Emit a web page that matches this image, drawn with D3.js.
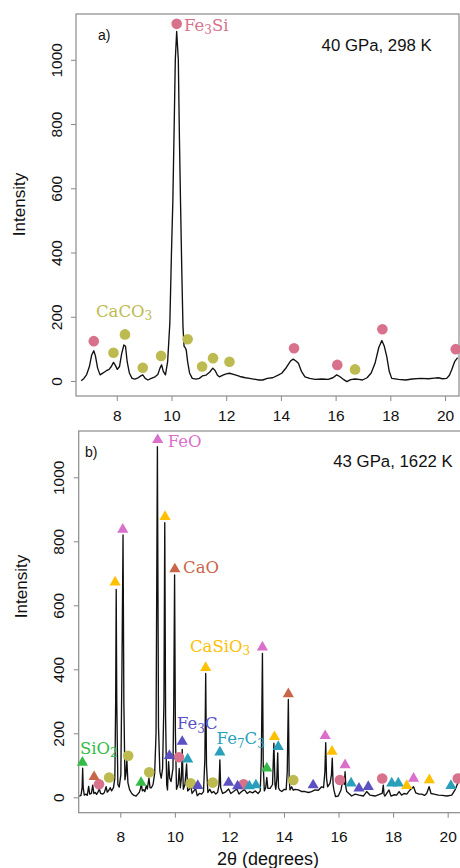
<!DOCTYPE html>
<html><head><meta charset="utf-8">
<script src="https://cdn.jsdelivr.net/npm/d3@7"></script>
<style>
html,body{margin:0;padding:0;background:#fff;}
svg{display:block;}
</style></head>
<body>
<svg id="chart" width="460" height="868"></svg>
<script>
// ---------- DATA ----------
const xTicks = [8, 10, 12, 14, 16, 18, 20];
const yTicks = [0, 200, 400, 600, 800, 1000];

// panel a: 40 GPa, 298 K  [2theta, intensity]
const traceA = [
 [6.70,1],[6.80,8],[6.90,20],[7.00,45],[7.08,80],[7.16,94],[7.22,78],[7.30,40],[7.39,19],[7.50,25],
 [7.62,32],[7.72,36],[7.80,45],[7.88,58],[7.94,50],[8.02,36],[8.10,45],[8.18,85],[8.26,112],[8.32,108],
 [8.38,60],[8.46,25],[8.56,8],[8.66,6],[8.78,10],[8.88,16],[8.95,19],[9.04,8],[9.14,3],[9.26,8],
 [9.40,13],[9.50,20],[9.58,40],[9.64,50],[9.70,30],[9.78,19],[9.86,60],[9.94,180],[10.00,400],[10.05,560],
 [10.10,800],[10.14,1000],[10.19,1088],[10.25,1000],[10.29,760],[10.33,560],[10.38,330],[10.42,170],[10.46,108],[10.50,104],
 [10.54,96],[10.59,60],[10.66,25],[10.76,8],[10.90,6],[11.02,8],[11.14,16],[11.26,18],[11.40,28],[11.51,40],
 [11.60,32],[11.68,18],[11.75,13],[11.88,18],[12.00,22],[12.12,24],[12.30,20],[12.50,14],[12.70,10],[12.85,8],
 [13.00,6],[13.20,3],[13.34,3],[13.50,8],[13.70,10],[13.90,18],[14.03,24],[14.20,42],[14.35,62],[14.45,68],
 [14.55,62],[14.64,55],[14.75,30],[14.88,13],[15.05,8],[15.25,5],[15.50,6],[15.73,5],[15.90,10],[16.04,19],
 [16.15,14],[16.30,4],[16.41,-2],[16.55,4],[16.71,6],[16.85,5],[16.98,3],[17.15,10],[17.30,25],[17.44,55],
 [17.58,105],[17.69,126],[17.78,108],[17.87,76],[17.96,30],[18.05,8],[18.30,5],[18.56,3],[18.80,6],[19.10,8],
 [19.40,7],[19.60,9],[19.75,10],[19.90,7],[20.06,8],[20.16,18],[20.24,34],[20.35,60],[20.46,73]
];

// panel b: 43 GPa, 1622 K
const traceB = [
 [6.50,4],[6.56,6],[6.60,30],[6.62,91],[6.64,30],[6.68,7],[6.74,10],[6.79,6],[6.84,34],[6.88,10],
 [6.94,12],[6.99,38],[7.03,12],[7.08,15],[7.13,9],[7.18,16],[7.23,26],[7.28,12],[7.35,10],[7.41,14],
 [7.48,33],[7.52,16],[7.58,22],[7.63,30],[7.68,20],[7.75,30],[7.80,60],[7.83,300],[7.85,650],[7.87,300],
 [7.91,40],[7.96,32],[8.02,70],[8.06,400],[8.10,820],[8.13,300],[8.17,55],[8.20,70],[8.24,117],[8.28,45],
 [8.34,24],[8.42,12],[8.50,6],[8.58,4],[8.64,10],[8.70,16],[8.74,28],[8.77,42],[8.81,20],[8.86,24],
 [8.90,18],[8.95,36],[8.99,26],[9.05,60],[9.09,30],[9.14,30],[9.20,40],[9.26,75],[9.31,200],[9.36,1096],
 [9.40,220],[9.45,80],[9.50,60],[9.55,90],[9.60,300],[9.63,858],[9.66,250],[9.70,40],[9.73,23],[9.77,111],
 [9.81,60],[9.86,49],[9.93,90],[9.96,300],[9.99,695],[10.02,200],[10.06,25],[10.12,40],[10.16,90],[10.20,30],
 [10.24,60],[10.27,150],[10.31,25],[10.37,40],[10.43,104],[10.47,20],[10.53,25],[10.58,38],[10.63,12],[10.70,20],
 [10.76,27],[10.82,5],[10.90,12],[10.98,10],[11.05,18],[11.10,120],[11.13,387],[11.16,100],[11.21,15],[11.28,25],
 [11.35,14],[11.42,18],[11.50,10],[11.57,16],[11.62,40],[11.65,117],[11.68,30],[11.75,12],[11.85,16],[11.97,26],
 [12.05,12],[12.15,18],[12.27,26],[12.35,10],[12.45,18],[12.55,24],[12.65,12],[12.75,18],[12.85,14],[12.95,20],
 [13.05,12],[13.13,20],[13.17,120],[13.21,450],[13.24,100],[13.28,20],[13.33,30],[13.37,62],[13.41,28],[13.49,28],
 [13.58,40],[13.63,169],[13.67,40],[13.70,25],[13.74,60],[13.77,139],[13.80,30],[13.84,23],[13.92,18],[14.01,25],
 [14.08,24],[14.12,80],[14.16,306],[14.19,60],[14.22,23],[14.28,33],[14.34,22],[14.40,25],[14.53,23],[14.65,18],
 [14.77,18],[14.90,15],[15.01,18],[15.14,23],[15.26,22],[15.38,33],[15.45,30],[15.50,80],[15.53,171],[15.56,60],
 [15.60,33],[15.69,44],[15.74,70],[15.77,122],[15.80,40],[15.83,23],[15.89,2],[15.99,4],[16.09,23],[16.16,54],
 [16.21,40],[16.24,80],[16.27,30],[16.30,18],[16.38,12],[16.48,4],[16.61,10],[16.75,7],[16.91,4],[17.03,18],
 [17.15,7],[17.34,4],[17.52,10],[17.60,12],[17.64,38],[17.67,8],[17.70,4],[17.85,23],[17.92,4],[18.05,8],
 [18.13,7],[18.22,18],[18.31,7],[18.40,12],[18.50,10],[18.62,23],[18.75,33],[18.83,14],[18.95,10],[19.05,10],
 [19.15,6],[19.23,12],[19.32,33],[19.39,12],[19.50,10],[19.66,7],[19.80,6],[19.97,4],[20.15,7],[20.27,23],
 [20.37,44],[20.45,54]
];

// phase markers [2theta, intensity]
const fe3siA  = [[7.16,124],[10.19,1112],[14.48,102],[16.06,50],[17.71,161],[20.39,99]];
const caco3A  = [[7.88,88],[8.30,145],[8.95,41],[9.62,78],[10.59,130],[11.12,45],[11.52,71],[12.12,60],[16.71,36]];

const fe3siB  = [[7.22,41],[10.15,125],[12.52,41],[16.05,54],[17.60,59],[20.37,59]];
const caco3B  = [[7.59,62],[8.29,130],[9.06,78],[10.58,44],[11.39,46],[14.34,54]];
const feoB    = [[8.09,837],[9.37,1117],[13.21,469],[15.51,192],[16.24,101],[18.75,59]];
const caoB    = [[7.04,64],[10.00,713],[14.16,323]];
const casio3B = [[7.81,672],[9.64,877],[11.13,405],[13.65,189],[15.76,143],[18.50,36],[19.33,54]];
const sio2B   = [[6.61,109],[8.76,46],[13.37,91]];
const fe3cB   = [[9.80,130],[10.27,174],[10.84,36],[11.97,46],[12.30,35],[15.07,38],[16.75,28],[17.09,33]];
const fe7c3B  = [[10.47,119],[11.65,141],[12.73,35],[12.97,38],[13.79,158],[16.46,44],[17.95,44],[18.19,44],[20.12,36]];

// phase names: [text, "sub" for subscript]
const nameFe3Si  = [["Fe",""],["3","sub"],["Si",""]];
const nameCaCO3  = [["CaCO",""],["3","sub"]];
const nameFeO    = [["FeO",""]];
const nameCaO    = [["CaO",""]];
const nameCaSiO3 = [["CaSiO",""],["3","sub"]];
const nameSiO2   = [["SiO",""],["2","sub"]];
const nameFe3C   = [["Fe",""],["3","sub"],["C",""]];
const nameFe7C3  = [["Fe",""],["7","sub"],["C",""],["3","sub"]];

const panelTitles = ["a)", "b)"];
const conditions = ["40 GPa, 298 K", "43 GPa, 1622 K"];

// ---------- STYLE / LAYOUT ----------
const C = {
  fe3si:"#D8728C", caco3:"#BDBB4F", feo:"#DA70CC", cao:"#C9664A",
  casio3:"#FFC000", sio2:"#35BC48", fe3c:"#5B51C2", fe7c3:"#2A9FBA"
};
const svg = d3.select("#chart");
const sans = "'Liberation Sans', Arial, sans-serif";
const serif = "'DejaVu Serif', serif";

const panels = [
  { box:[76,459,14,396], xdom:[6.51,20.51], ydom:[-46.8,1142.6],
    trace:traceA, tickPad:9, ylab:[18.5,204.5],
    markers:[ {d:fe3siA, c:C.fe3si, s:"circle"}, {d:caco3A, c:C.caco3, s:"circle"} ],
    labels:[ {n:nameFe3Si, c:C.fe3si, at:[10.46,1109]}, {n:nameCaCO3, c:C.caco3, at:[7.24,218]} ],
    title:[98,35], cond:[431.7,45] },
  { box:[78.7,461.3,431,812.7], xdom:[6.475,20.5], ydom:[-48.1,1144.7],
    trace:traceB, tickPad:13, ylab:[21,586.5],
    markers:[ {d:fe3siB, c:C.fe3si, s:"circle"}, {d:caco3B, c:C.caco3, s:"circle"},
              {d:sio2B, c:C.sio2, s:"tri"}, {d:caoB, c:C.cao, s:"tri"},
              {d:fe3cB, c:C.fe3c, s:"tri"}, {d:fe7c3B, c:C.fe7c3, s:"tri"},
              {d:casio3B, c:C.casio3, s:"tri"}, {d:feoB, c:C.feo, s:"tri"} ],
    labels:[ {n:nameFeO, c:C.feo, at:[9.74,1114]}, {n:nameCaO, c:C.cao, at:[10.30,721]},
             {n:nameCaSiO3, c:C.casio3, at:[10.555,473]}, {n:nameSiO2, c:C.sio2, at:[6.52,154]},
             {n:nameFe3C, c:C.fe3c, at:[10.08,232]}, {n:nameFe7C3, c:C.fe7c3, at:[11.53,185]} ],
    title:[85,452], cond:[452.7,461] }
];

panels.forEach((p, i) => {
  const [x0,x1,y0,y1] = p.box;
  const x = d3.scaleLinear().domain(p.xdom).range([x0,x1]);
  const y = d3.scaleLinear().domain(p.ydom).range([y1,y0]);
  const g = svg.append("g");

  // x axis
  const xa = g.append("g").attr("transform",`translate(0,${y1})`)
    .call(d3.axisBottom(x).tickValues(xTicks).tickFormat(d3.format("d")).tickSize(5).tickSizeOuter(0).tickPadding(p.tickPad));
  xa.select(".domain").remove();
  xa.selectAll("line").attr("stroke","#888");
  xa.selectAll("text").attr("font-family",sans).attr("font-size",15.5).attr("fill","#111");

  // y axis
  const ya = g.append("g").attr("transform",`translate(${x0},0)`)
    .call(d3.axisLeft(y).tickValues(yTicks).tickFormat(d3.format("d")).tickSize(5).tickSizeOuter(0));
  ya.select(".domain").remove();
  ya.selectAll("line").attr("stroke","#888");
  ya.selectAll("text").attr("font-family",sans).attr("font-size",15.5).attr("fill","#111")
    .attr("x",null).attr("dy",null).attr("text-anchor","middle")
    .attr("transform","translate(-14.5,0) rotate(-90)");

  // box
  g.append("rect").attr("x",x0).attr("y",y0).attr("width",x1-x0).attr("height",y1-y0)
    .attr("fill","none").attr("stroke","#8a8a8a").attr("stroke-width",1.2);

  // clip
  const cid = "clip"+i;
  svg.append("clipPath").attr("id",cid).append("rect")
    .attr("x",x0).attr("y",y0).attr("width",x1-x0).attr("height",y1-y0);

  // trace
  g.append("path").datum(p.trace)
    .attr("clip-path",`url(#${cid})`)
    .attr("fill","none").attr("stroke","#111").attr("stroke-width",1.35)
    .attr("stroke-linejoin","round")
    .attr("d", d3.line().x(d=>x(d[0])).y(d=>y(d[1])));

  // markers
  p.markers.forEach(m => {
    if (m.s === "circle") {
      g.selectAll(null).data(m.d).enter().append("circle")
        .attr("cx",d=>x(d[0])).attr("cy",d=>y(d[1])).attr("r",5.3).attr("fill",m.c);
    } else {
      g.selectAll(null).data(m.d).enter().append("path")
        .attr("d", d3.symbol(d3.symbolTriangle, 54)())
        .attr("transform",d=>`translate(${x(d[0])},${y(d[1])})`).attr("fill",m.c);
    }
  });

  // phase labels
  p.labels.forEach(l => {
    const t = g.append("text").attr("x",x(l.at[0])).attr("y",y(l.at[1]))
      .attr("dy","0.36em").attr("font-family",serif).attr("font-size",16.5).attr("fill",l.c);
    let shifted = false;
    l.n.forEach(([s,kind]) => {
      const ts = t.append("tspan").text(s);
      if (kind === "sub") { ts.attr("font-size",12).attr("dy", shifted ? 0 : 3.5); shifted = true; }
      else { if (shifted) ts.attr("dy",-3.5); shifted = false; }
    });
  });

  // panel letter and condition
  g.append("text").attr("x",p.title[0]).attr("y",p.title[1]).attr("dy","0.36em")
    .attr("font-family",sans).attr("font-size",14).attr("fill","#111").text(panelTitles[i]);
  g.append("text").attr("x",p.cond[0]).attr("y",p.cond[1]).attr("dy","0.36em").attr("text-anchor","end")
    .attr("font-family",sans).attr("font-size",16.8).attr("fill","#111").text(conditions[i]);

  // y label
  g.append("text").attr("transform",`translate(${p.ylab[0]},${p.ylab[1]}) rotate(-90)`)
    .attr("dy","0.36em").attr("text-anchor","middle")
    .attr("font-family",sans).attr("font-size",17).attr("fill","#111").text("Intensity");
});

// x label
svg.append("text").attr("x",268).attr("y",859).attr("dy","0.36em").attr("text-anchor","middle")
  .attr("font-family",sans).attr("font-size",18).attr("fill","#111").text("2θ (degrees)");
</script>
</body></html>
